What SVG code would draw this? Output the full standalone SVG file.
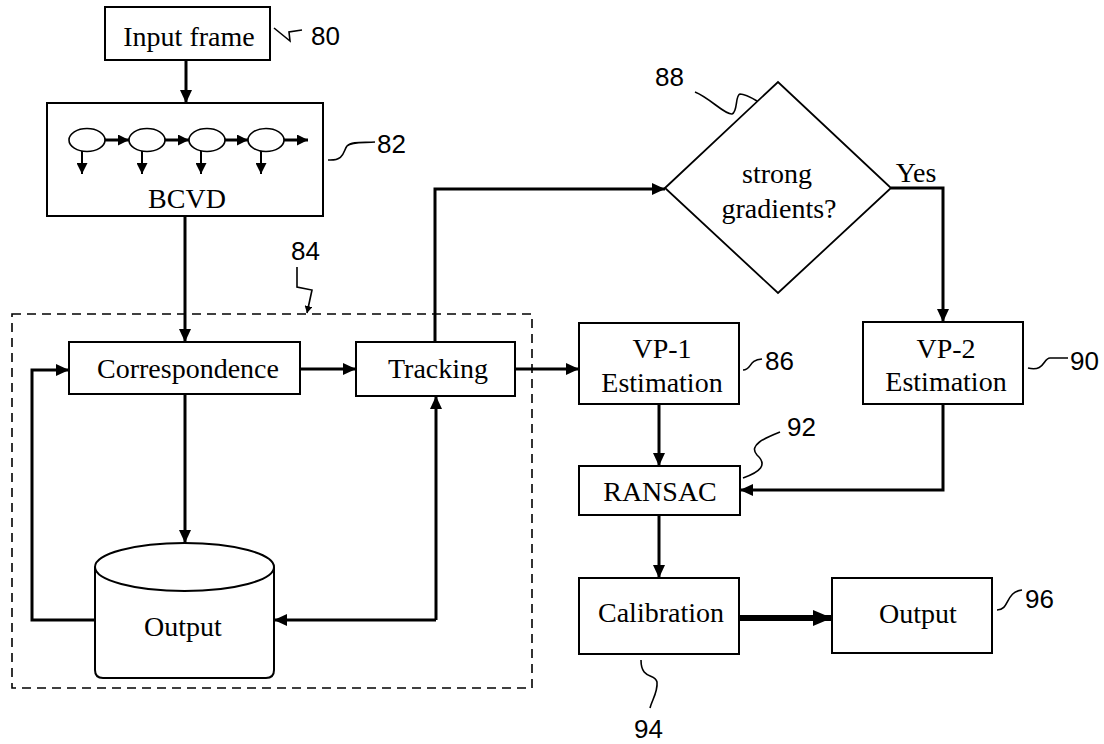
<svg xmlns="http://www.w3.org/2000/svg" width="1104" height="744" viewBox="0 0 1104 744">
<style>
.box{fill:#fff;stroke:#000;stroke-width:2}
.t{font-family:"Liberation Serif","Times New Roman",serif;font-size:28px;fill:#000;text-anchor:middle}
.n{font-family:"Liberation Sans",Arial,sans-serif;font-size:26px;fill:#000}
.c{fill:none;stroke:#000;stroke-width:3}
.s{fill:none;stroke:#000;stroke-width:1.6}
.ref{fill:none;stroke:#000;stroke-width:1.6}
</style>
<defs>
<marker id="a" markerUnits="userSpaceOnUse" markerWidth="14" markerHeight="12" refX="13" refY="6" orient="auto"><path d="M0,0 L13,6 L0,12 z" fill="#000"/></marker>
<marker id="as" markerUnits="userSpaceOnUse" markerWidth="12" markerHeight="11" refX="11" refY="5.5" orient="auto"><path d="M0,0 L11,5.5 L0,11 z" fill="#000"/></marker>
<marker id="ab" markerUnits="userSpaceOnUse" markerWidth="20" markerHeight="16" refX="19" refY="8" orient="auto"><path d="M0,0 L19,8 L0,16 z" fill="#000"/></marker>
<marker id="ar" markerUnits="userSpaceOnUse" markerWidth="8" markerHeight="8" refX="7" refY="4" orient="auto"><path d="M0,0 L7,4 L0,8 z" fill="#000"/></marker>
</defs>

<rect x="12" y="314" width="520" height="374" fill="none" stroke="#000" stroke-width="1.6" stroke-dasharray="9,6"/>

<g id="input">
<rect class="box" x="105" y="7" width="165" height="53"/>
<text class="t" x="189" y="46">Input frame</text>
</g>
<g id="bcvd">
<rect class="box" x="47" y="103" width="276" height="113"/>
<ellipse cx="87" cy="140" rx="18" ry="11.5" fill="#fff" stroke="#000" stroke-width="1.6"/>
<ellipse cx="147" cy="140" rx="18" ry="11.5" fill="#fff" stroke="#000" stroke-width="1.6"/>
<ellipse cx="207" cy="140" rx="18" ry="11.5" fill="#fff" stroke="#000" stroke-width="1.6"/>
<ellipse cx="266" cy="140" rx="18" ry="11.5" fill="#fff" stroke="#000" stroke-width="1.6"/>
<line class="c" x1="105" y1="140" x2="129" y2="140" marker-end="url(#as)"/>
<line class="c" x1="165" y1="140" x2="189" y2="140" marker-end="url(#as)"/>
<line class="c" x1="225" y1="140" x2="248" y2="140" marker-end="url(#as)"/>
<line class="c" x1="284" y1="140" x2="308" y2="140" marker-end="url(#as)"/>
<line x1="82" y1="151" x2="82" y2="174" stroke="#000" stroke-width="2" marker-end="url(#as)"/>
<line x1="142" y1="151" x2="142" y2="174" stroke="#000" stroke-width="2" marker-end="url(#as)"/>
<line x1="201" y1="151" x2="201" y2="174" stroke="#000" stroke-width="2" marker-end="url(#as)"/>
<line x1="261" y1="151" x2="261" y2="174" stroke="#000" stroke-width="2" marker-end="url(#as)"/>
<text class="t" x="187" y="208">BCVD</text>
</g>
<g id="correspondence">
<rect class="box" x="69" y="342" width="231" height="52"/>
<text class="t" x="188" y="378">Correspondence</text>
</g>
<g id="tracking">
<rect class="box" x="356" y="342" width="159" height="54"/>
<text class="t" x="438" y="378">Tracking</text>
</g>
<g id="output-db">
<path d="M95,567 L95,670 Q95,678 103,678 L266,678 Q274,678 274,670 L274,567" fill="#fff" stroke="#000" stroke-width="2"/>
<ellipse cx="184.5" cy="567" rx="89.5" ry="24" fill="#fff" stroke="#000" stroke-width="2"/>
<text class="t" x="183" y="636">Output</text>
</g>
<g id="decision">
<polygon points="665,188 778,82 891,188 778,293" fill="#fff" stroke="#000" stroke-width="1.8"/>
<text class="t" x="777" y="183">strong</text>
<text class="t" x="779" y="218">gradients?</text>
</g>
<g id="vp1">
<rect class="box" x="579" y="323" width="160" height="81"/>
<text class="t" x="662" y="358">VP-1</text>
<text class="t" x="662" y="392">Estimation</text>
</g>
<g id="vp2">
<rect class="box" x="863" y="322" width="160" height="82"/>
<text class="t" x="946" y="358">VP-2</text>
<text class="t" x="946" y="391">Estimation</text>
</g>
<g id="ransac">
<rect class="box" x="579" y="466" width="161" height="49"/>
<text class="t" x="660" y="501">RANSAC</text>
</g>
<g id="calibration">
<rect class="box" x="579" y="578" width="160" height="76"/>
<text class="t" x="661" y="622">Calibration</text>
</g>
<g id="output">
<rect class="box" x="832" y="578" width="160" height="75"/>
<text class="t" x="918" y="623">Output</text>
</g>

<g id="connectors">
<line class="c" x1="186" y1="60" x2="186" y2="103" marker-end="url(#a)"/>
<line class="c" x1="185" y1="216" x2="185" y2="342" marker-end="url(#a)"/>
<line class="c" x1="300" y1="369" x2="356" y2="369" marker-end="url(#a)"/>
<line class="c" x1="515" y1="369" x2="579" y2="369" marker-end="url(#a)"/>
<line class="c" x1="185" y1="394" x2="185" y2="543" marker-end="url(#a)"/>
<polyline class="c" points="95,620 32,620 32,370 69,370" marker-end="url(#a)"/>
<polyline class="c" points="436,620 274,620" marker-end="url(#a)"/>
<polyline class="c" points="436,620 436,396" marker-end="url(#a)"/>
<polyline class="c" points="435,342 435,189 665,189" marker-end="url(#a)"/>
<polyline class="c" points="891,188 943,188 943,322" marker-end="url(#a)"/>
<line class="c" x1="659" y1="404" x2="659" y2="466" marker-end="url(#a)"/>
<polyline class="c" points="943,404 943,490 740,490" marker-end="url(#a)"/>
<line class="c" x1="659" y1="515" x2="659" y2="578" marker-end="url(#a)"/>
<line x1="739" y1="618" x2="832" y2="618" stroke="#000" stroke-width="6" marker-end="url(#ab)"/>
</g>

<g id="labels">
<path class="ref" d="M274,28 L290,41 L289,32 L302,30"/>
<text class="n" x="311" y="45">80</text>
<path class="ref" d="M328,160 C345,161 343,151 347,146 C352,141 365,143 375,142"/>
<text class="n" x="377" y="153">82</text>
<path class="ref" d="M297,267 L297,287 L312,290 L307,313" marker-end="url(#ar)"/>
<text class="n" x="291" y="260">84</text>
<path class="ref" d="M695,92 C710,98 725,115 732,114 C738,112 735,95 740,94 C745,94 752,98 757,101"/>
<text class="n" x="655" y="86">88</text>
<path class="ref" d="M743,370 C752,370 748,360 762,359"/>
<text class="n" x="765" y="370">86</text>
<path class="ref" d="M743,478 C760,472 768,465 757,455 C748,445 765,438 780,432"/>
<text class="n" x="787" y="436">92</text>
<path class="ref" d="M1028,368 C1045,372 1043,358 1050,358 L1068,358"/>
<text class="n" x="1070" y="370">90</text>
<path class="ref" d="M641,660 C641,680 655,673 657,682 C658,692 652,700 650,708"/>
<text class="n" x="634" y="738">94</text>
<path class="ref" d="M997,610 C1010,610 1005,592 1022,590"/>
<text class="n" x="1025" y="608">96</text>
<text class="t" x="916" y="182">Yes</text>
</g>
</svg>
